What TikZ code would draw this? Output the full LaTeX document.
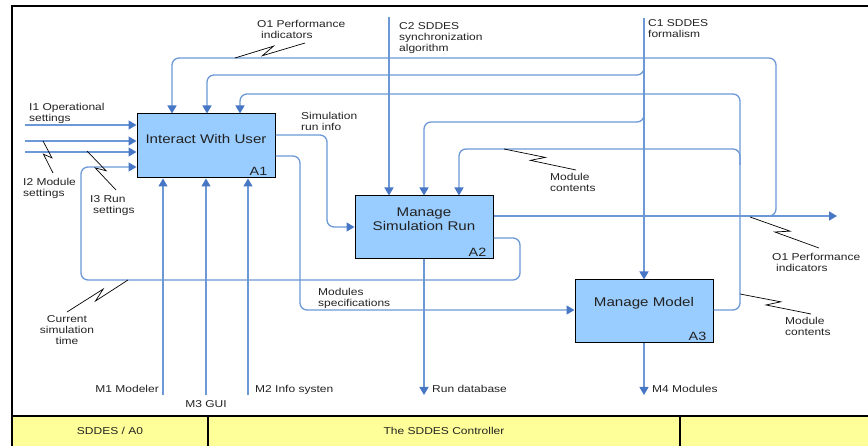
\documentclass[tikz,border=0pt]{standalone}
\usepackage{fontspec}
\setmainfont[FakeStretch=1.2]{Liberation Sans}
\usetikzlibrary{arrows.meta,calc}

\definecolor{flowblue}{RGB}{108,152,214}
\definecolor{tipblue}{RGB}{70,118,196}
\definecolor{boxblue}{RGB}{153,204,255}
\definecolor{footyellow}{RGB}{255,255,153}
\definecolor{inkgray}{RGB}{34,34,34}

% IDEF0 squiggle tying a label to its arrow
\newcommand\squiggle[2]{%
  \draw[squig] (#1) -- ($(#1)!0.56!(#2)!3.5pt!90:(#2)$)
    -- ($(#1)!0.38!(#2)!3.5pt!-90:(#2)$) -- (#2);}

\tikzset{
  flow/.style={draw=flowblue, line width=1.3pt, rounded corners=7pt},
  arr/.style={flow, -{Triangle[length=8pt,width=9pt,color=tipblue]}},
  box/.style={draw=black, line width=1pt, fill=boxblue,
    minimum width=138pt, minimum height=64pt, inner sep=0pt},
  title/.style={font=\fontsize{12.6}{14}\selectfont, align=center,
    text=inkgray, inner sep=0pt, anchor=base},
  tag/.style={font=\fontsize{12}{14}\selectfont, text=inkgray,
    inner sep=0pt, anchor=base east},
  lbl/.style={font=\fontsize{10}{11}\selectfont, align=left,
    text=inkgray, inner sep=0pt, anchor=base west},
  squig/.style={draw=black, line width=0.7pt},
}

\begin{document}
\begin{tikzpicture}[x=1pt,y=-1pt]
  \clip (0,0) rectangle (868,446);
  \useasboundingbox (0,0) rectangle (868,446);

  % frame and footer
  \fill[footyellow] (12,416) rectangle (890,470);
  \draw[line width=1.5pt] (12,6) rectangle (890,470);
  \draw[line width=1.5pt] (12,416) -- (890,416);
  \draw[line width=1.5pt] (208,416) -- (208,470);
  \draw[line width=1.5pt] (680,416) -- (680,470);
  \node[font=\fontsize{10}{12}\selectfont, text=inkgray, anchor=base]
    (ft1) at (110,435) {SDDES / A0};
  \node[font=\fontsize{10}{12}\selectfont, text=inkgray, anchor=base]
    (ft2) at (444,435) {The SDDES Controller};

  % activity boxes
  \node[box] (A1) at (206,146) {};
  \node[box, minimum height=63pt] (A2) at (424,227.5) {};
  \node[box, minimum height=63pt] (A3) at (644,311.5) {};

  \node[title] (A1t) at (206,144) {Interact With User};
  \node[title] (A2t) at (424,231) {Manage\\Simulation Run};
  \node[title] (A3t) at (644,307) {Manage Model};
  \node[tag] (A1n) at ($(A1.south east)+(-8,-3)$) {A1};
  \node[tag] (A2n) at ($(A2.south east)+(-7,-3)$) {A2};
  \node[tag] (A3n) at ($(A3.south east)+(-7,-3)$) {A3};

  % free ends
  \coordinate (i1) at (25,125);
  \coordinate (i2) at (25,141);
  \coordinate (i3) at (25,152);
  \coordinate (c2) at (389,17);
  \coordinate (c1) at (644,18);
  \coordinate (m1) at (163,395);
  \coordinate (m3) at (206,395);
  \coordinate (m2) at (248,395);
  \coordinate (rundb) at (424,395);
  \coordinate (m4) at (644,395);
  \coordinate (o1) at (837,216);

  % inputs
  \draw[arr] (i1) -- (i1 -| A1.west);
  \draw[arr] (i2) -- (i2 -| A1.west);
  \draw[arr] (i3) -- (i3 -| A1.west);

  % controls
  \draw[arr] (c2) -- (c2 |- A2.north);
  \draw[arr] (c1) -- (A3.north);
  \draw[arr] (644,62) -- (644,75) -- (207,75) -- (207,0 |- A1.north);
  \draw[arr] (644,110) -- (644,122) -- (424,122) -- (A2.north);

  % mechanisms
  \draw[arr] (m1) -- (m1 |- A1.south);
  \draw[arr] (m3) -- (m3 |- A1.south);
  \draw[arr] (m2) -- (m2 |- A1.south);

  % outputs
  \draw[arr] (A2.south) -- (rundb);
  \draw[arr] (A3.south) -- (m4);
  \draw[arr] (A2.east |- o1) -- (o1);

  % O1 performance indicators fed back to A1
  \draw[arr] (760,216) -- (776,216) -- (776,58) -- (172,58) -- (172,0 |- A1.north);

  % module contents from A3 back to A1 and A2
  \draw[arr] (A3.east |- 0,310) -- (740,310) -- (740,94) -- (240,94) -- (240,0 |- A1.north);
  \draw[arr] (740,165) -- (740,149) -- (459,149) -- (459,0 |- A2.north);

  % simulation run info A1 -> A2
  \draw[arr] (A1.east |- 0,135) -- (327,135) -- (327,227) -- (A2.west |- 0,227);
  % modules specifications A1 -> A3
  \draw[arr] (A1.east |- 0,156) -- (300,156) -- (300,310) -- (A3.west |- 0,310);
  % current simulation time A2 -> A1
  \draw[arr] (A2.east |- 0,238) -- (520,238) -- (520,280) -- (81,280) -- (81,167) -- (A1.west |- 0,167);

  % labels (anchored at the baseline of their last line)
  \node[lbl] (lo1a) at (257,39) {O1 Performance\\\hspace*{4pt}indicators};
  \node[lbl] (lc2) at (399,52) {C2 SDDES\\synchronization\\algorithm};
  \node[lbl] (lc1) at (648,38) {C1 SDDES\\formalism};
  \node[lbl] (lsri) at (301,131) {Simulation\\run info};
  \node[lbl] (lmc1) at (550,192) {Module\\contents};
  \node[lbl] (lo1b) at (772,272) {O1 Performance\\\hspace*{4pt}indicators};
  \node[lbl] (lmc2) at (785,336) {Module\\contents};
  \node[lbl] (lms) at (318,307) {Modules\\specifications};
  \node[lbl, align=center, anchor=base] (lcst) at (67,345) {Current\\simulation\\time};
  \node[lbl] (li1) at (29,122) {I1 Operational\\settings};
  \node[lbl] (li2) at (23,197) {I2 Module\\settings};
  \node[lbl] (li3) at (90,214) {I3 Run\\\hspace*{3pt}settings};
  \node[lbl, anchor=base east] (lm1) at (159,392) {M1 Modeler};
  \node[lbl, anchor=base] (lm3) at (206,408) {M3 GUI};
  \node[lbl] (lm2) at (255,392) {M2 Info systen};
  \node[lbl] (lrdb) at (432,392) {Run database};
  \node[lbl] (lm4) at (652,392) {M4 Modules};

  % squiggles
  \squiggle{235,58}{305,43}
  \squiggle{43,141}{53,173}
  \squiggle{87,151}{116,190}
  \squiggle{128,280}{67,312}
  \squiggle{504,149}{576,170}
  \squiggle{750,217}{819,248}
  \squiggle{740,294}{811,314}
\end{tikzpicture}
\end{document}
